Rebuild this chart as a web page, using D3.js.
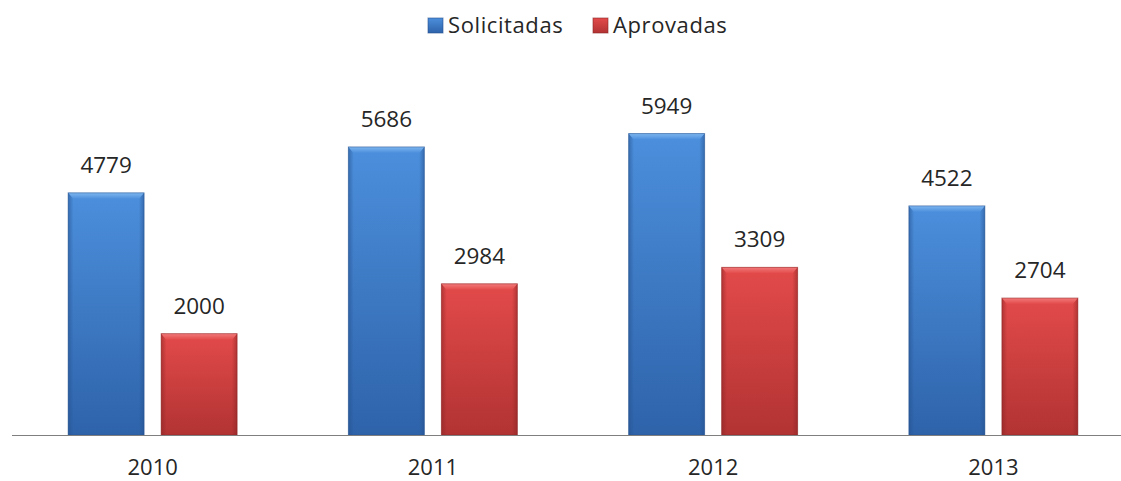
<!DOCTYPE html>
<html>
<head>
<meta charset="utf-8">
<script src="https://cdn.jsdelivr.net/npm/d3@7"></script>
<style>
  html, body { margin: 0; padding: 0; background: #ffffff; }
  svg { display: block; }
</style>
</head>
<body>
<script>
const categories = ["2010", "2011", "2012", "2013"];
const seriesNames = ["Solicitadas", "Aprovadas"];
const solicitadas = [4779, 5686, 5949, 4522];
const aprovadas = [2000, 2984, 3309, 2704];

const W = 1121, H = 481;
const svg = d3.select("body").append("svg").attr("width", W).attr("height", H);
const defs = svg.append("defs");

const palettes = {
  Solicitadas: { top: "#4c8fdc", bottom: "#2e63aa", edge: "#244f8c", cap: "#7db6f0" },
  Aprovadas: { top: "#e34a4a", bottom: "#b23333", edge: "#8a2424", cap: "#f27a7a" }
};

seriesNames.forEach((s, i) => {
  const p = palettes[s];
  const g = defs.append("linearGradient").attr("id", "body" + i).attr("x1", 0).attr("y1", 0).attr("x2", 0).attr("y2", 1);
  g.append("stop").attr("offset", "0%").attr("stop-color", p.top);
  g.append("stop").attr("offset", "100%").attr("stop-color", p.bottom);
  const h = defs.append("linearGradient").attr("id", "side" + i).attr("x1", 0).attr("y1", 0).attr("x2", 1).attr("y2", 0);
  h.append("stop").attr("offset", "0%").attr("stop-color", p.edge).attr("stop-opacity", 0.55);
  h.append("stop").attr("offset", "7%").attr("stop-color", p.edge).attr("stop-opacity", 0.0);
  h.append("stop").attr("offset", "93%").attr("stop-color", p.edge).attr("stop-opacity", 0.0);
  h.append("stop").attr("offset", "100%").attr("stop-color", p.edge).attr("stop-opacity", 0.55);
  const c = defs.append("linearGradient").attr("id", "cap" + i).attr("x1", 0).attr("y1", 0).attr("x2", 0).attr("y2", 1);
  c.append("stop").attr("offset", "0%").attr("stop-color", p.cap);
  c.append("stop").attr("offset", "100%").attr("stop-color", p.top);
});

const data = categories.map((c, i) => ({ cat: c, values: [solicitadas[i], aprovadas[i]] }));

const baseline = 435;
const x0 = d3.scaleBand().domain(categories).range([12.5, 1133.5]).paddingInner(0).paddingOuter(0);
const x1 = d3.scaleBand().domain(seriesNames).range([0, x0.bandwidth()]).paddingInner(0.183).paddingOuter(0.598);
const y = d3.scaleLinear().domain([0, 6000]).range([baseline, 131]);

const font = "'Open Sans', 'Liberation Sans', sans-serif";

// Bars
const groups = svg.append("g").selectAll("g").data(data).join("g")
  .attr("transform", d => `translate(${x0(d.cat)},0)`);

groups.each(function(d) {
  const g = d3.select(this);
  d.values.forEach((v, i) => {
    const s = seriesNames[i];
    const bx = x1(s), bw = x1.bandwidth();
    const by = y(v), bh = y(0) - y(v);
    g.append("rect").attr("x", bx).attr("y", by).attr("width", bw).attr("height", bh)
      .attr("fill", `url(#body${i})`);
    g.append("rect").attr("x", bx).attr("y", by).attr("width", bw).attr("height", bh)
      .attr("fill", `url(#side${i})`);
    // top bevel
    g.append("path")
      .attr("d", `M${bx},${by} L${bx + bw},${by} L${bx + bw - 5},${by + 6} L${bx + 5},${by + 6} Z`)
      .attr("fill", `url(#cap${i})`);
    g.append("rect").attr("x", bx).attr("y", by).attr("width", bw).attr("height", bh)
      .attr("fill", "none").attr("stroke", palettes[s].edge).attr("stroke-opacity", 0.5).attr("stroke-width", 1);
    // value label
    g.append("text").attr("x", bx + bw / 2).attr("y", by - 20)
      .attr("text-anchor", "middle").attr("font-family", font).attr("font-size", 22.5)
      .attr("fill", "#262626").text(v);
  });
});

// Axis line
svg.append("line").attr("x1", 12).attr("x2", W).attr("y1", baseline + 0.5).attr("y2", baseline + 0.5)
  .attr("stroke", "#7f7f7f").attr("stroke-width", 1.2);

// Category labels
const xAxis = d3.axisBottom(x0).tickSize(0).tickPadding(0);
const ax = svg.append("g").attr("transform", `translate(0,${baseline})`).call(xAxis);
ax.select(".domain").remove();
ax.selectAll("text").attr("font-family", font).attr("font-size", 22).attr("fill", "#262626")
  .attr("dy", null).attr("y", 39.5);

// Legend
const legendItems = [
  { name: "Solicitadas", x: 428, i: 0 },
  { name: "Aprovadas", x: 593, i: 1 }
];
const lg = svg.append("g");
legendItems.forEach(it => {
  lg.append("rect").attr("x", it.x).attr("y", 18).attr("width", 15).attr("height", 15)
    .attr("fill", `url(#body${it.i})`).attr("stroke", palettes[seriesNames[it.i]].edge).attr("stroke-opacity", 0.6);
  lg.append("text").attr("x", it.x + 20).attr("y", 33).attr("font-family", font).attr("font-size", 22)
    .attr("letter-spacing", 0.6).attr("fill", "#262626").text(it.name);
});
</script>
</body>
</html>
